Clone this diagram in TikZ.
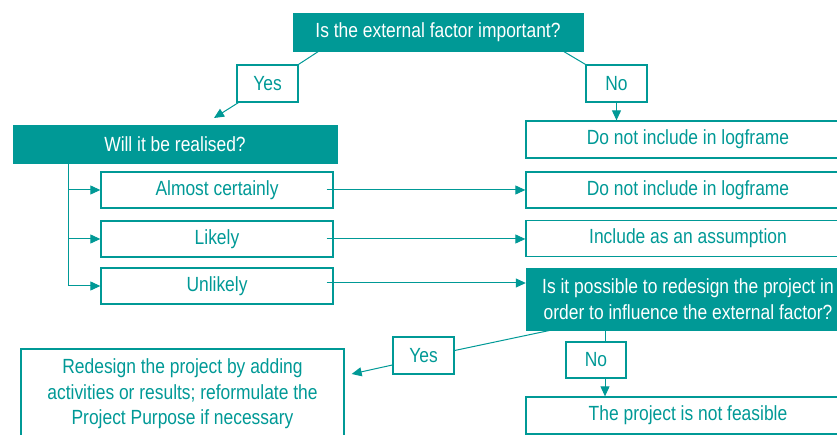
\documentclass[tikz,border=0pt]{standalone}
\usepackage{fontspec}
\setmainfont{Liberation Sans}[FakeStretch=0.85]
\usetikzlibrary{arrows.meta,calc}
\definecolor{teal1}{RGB}{0,153,150}
\tikzset{
  box/.style={draw=teal1, line width=1.3pt, text=teal1, inner sep=0pt, align=center,
    font=\fontsize{20.5}{25.5}\selectfont},
  qbox/.style={fill=teal1, draw=teal1, text=white, inner sep=0pt, align=center,
    font=\fontsize{20.5}{25.5}\selectfont},
  conn/.style={draw=teal1, line width=1pt},
  arr/.style={conn, -{Triangle[length=10pt,width=9pt]}},
}
\begin{document}
\begin{tikzpicture}[x=1pt,y=-1pt]
\clip (0,0) rectangle (837,435);
% nodes
\node[qbox, minimum width=290pt, minimum height=38pt] (q1) at (438,32) {Is the external factor important?};
\node[box, minimum width=61pt, minimum height=37pt] (yes1) at (267.5,83.5) {Yes};
\node[box, minimum width=61pt, minimum height=37pt] (no1) at (616.5,83.5) {No};
\node[qbox, minimum width=324pt, minimum height=38pt] (will) at (175,144) {Will it be realised?};
\node[box, minimum width=324pt, minimum height=37pt] (dni1) at (688,139.5) {Do not include in logframe};
\node[box, minimum width=232pt, minimum height=36pt] (almost) at (217,190) {Almost certainly};
\node[box, minimum width=324pt, minimum height=36pt] (dni2) at (688,190) {Do not include in logframe};
\node[box, minimum width=232pt, minimum height=36pt] (likely) at (217,239) {Likely};
\node[box, minimum width=324pt, minimum height=36pt] (incl) at (688,238.5) {Include as an assumption};
\node[box, minimum width=232pt, minimum height=36pt] (unlikely) at (217,286) {Unlikely};
\node[qbox, minimum width=324pt, minimum height=62pt] (poss) at (688,299) {Is it possible to redesign the project in\\order to influence the external factor?};
\node[box, minimum width=61pt, minimum height=37pt] (yes2) at (423.5,355.5) {Yes};
\node[box, minimum width=60pt, minimum height=36pt] (no2) at (596,360) {No};
\node[box, minimum width=323pt, minimum height=90pt] (redes) at (182.5,394) {Redesign the project by adding\\activities or results; reformulate the\\Project Purpose if necessary};
\node[box, minimum width=324pt, minimum height=37pt] (feas) at (688,415.5) {The project is not feasible};
% connectors
\coordinate (a1) at (214,118);
\draw[conn] ([xshift=26pt]q1.south west) -- (yes1.north east);
\draw[arr] ([xshift=2pt]yes1.south west) -- (a1);
\draw[conn] ([xshift=-20pt]q1.south east) -- (no1.north west);
\draw[arr] (no1.south) -- (no1.south |- dni1.north);
\coordinate (trunk) at ([xshift=56pt]will.south west);
\draw[arr] (trunk) |- (almost.west);
\draw[arr] (trunk) |- (likely.west);
\draw[arr] (trunk) |- (unlikely.west);
\draw[arr] ([xshift=-7pt]almost.east) -- (dni2.west);
\draw[arr] ([xshift=-7pt]likely.east) -- (likely.east -| incl.west);
\draw[arr] ([xshift=-7pt,yshift=3pt]unlikely.east) -- ([yshift=3pt]unlikely.east -| poss.west);
\draw[conn] ([xshift=25pt]poss.south west) -- ([yshift=5pt]yes2.east);
\draw[arr] ([yshift=-9.5pt]yes2.west) -- ([xshift=7pt,yshift=20pt]redes.east);
\draw[conn] ([xshift=9pt]no2.north) -- ([xshift=9pt]no2.north |- poss.south);
\draw[arr] ([xshift=9pt]no2.south) -- ([xshift=9pt]no2.south |- feas.north);
\end{tikzpicture}
\end{document}
